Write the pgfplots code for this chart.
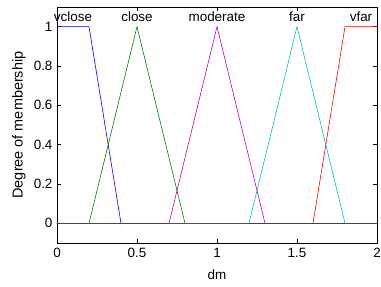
\documentclass[border=0pt]{standalone}
\usepackage{pgfplots}
\pgfplotsset{compat=1.18}
\usepackage{fontspec}
\setmainfont{Liberation Sans}
\definecolor{mgreen}{rgb}{0,0.5,0}
\definecolor{mcyan}{rgb}{0,0.75,0.75}
\definecolor{mmag}{rgb}{0.75,0,0.75}
\newcommand{\fs}{\fontsize{13.5}{16}\selectfont}
\begin{document}
\begin{tikzpicture}
\begin{axis}[
  scale only axis, width=320bp, height=236bp,
  xmin=0, xmax=2, ymin=-0.1, ymax=1.1,
  xtick={0,0.5,1,1.5,2}, ytick={0,0.2,0.4,0.6,0.8,1},
  tick align=inside, tick pos=both,
  major tick length=4bp,
  axis line style={line width=1pt},
  tick style={black, line width=0.5pt},
  every tick label/.append style={font=\fs},
  xticklabel style={yshift=-2bp},
  yticklabel style={xshift=-1bp},
  /pgf/number format/assume math mode=true,
  clip=false,
]
\addplot[blue, line width=0.6pt] coordinates {(0,1) (0.2,1) (0.4,0) (2,0)};
\addplot[mgreen, line width=0.6pt] coordinates {(0,0) (0.2,0) (0.5,1) (0.8,0) (2,0)};
\addplot[red, line width=0.6pt] coordinates {(0,0) (1.6,0) (1.8,1) (2,1)};
\addplot[mcyan, line width=0.6pt] coordinates {(0,0) (1.2,0) (1.5,1) (1.8,0) (2,0)};
\addplot[mmag, line width=0.6pt] coordinates {(0,0) (0.7,0) (1,1) (1.3,0) (2,0)};
\addplot[blue!60!magenta, line width=0.6pt, opacity=0.6] coordinates {(0,0) (2,0)};
\node[font=\fs] at (axis cs:0.1,1.05) {vclose};
\node[font=\fs] at (axis cs:0.5,1.05) {close};
\node[font=\fs] at (axis cs:1,1.05) {moderate};
\node[font=\fs] at (axis cs:1.5,1.05) {far};
\node[font=\fs] at (axis cs:1.9,1.05) {vfar};
\node[font=\fontsize{14.5}{17}\selectfont, rotate=90] at ([xshift=-38bp]rel axis cs:0,0.5) {Degree of membership};
\node[font=\fs] at ([yshift=-32bp]rel axis cs:0.5,0) {dm};
\coordinate (ll) at (rel axis cs:0,0);
\coordinate (ur) at (rel axis cs:1,1);
\end{axis}
\pgfresetboundingbox
\path ([xshift=-57bp,yshift=-44bp]ll) rectangle ([xshift=4bp,yshift=7bp]ur);
\end{tikzpicture}
\end{document}
